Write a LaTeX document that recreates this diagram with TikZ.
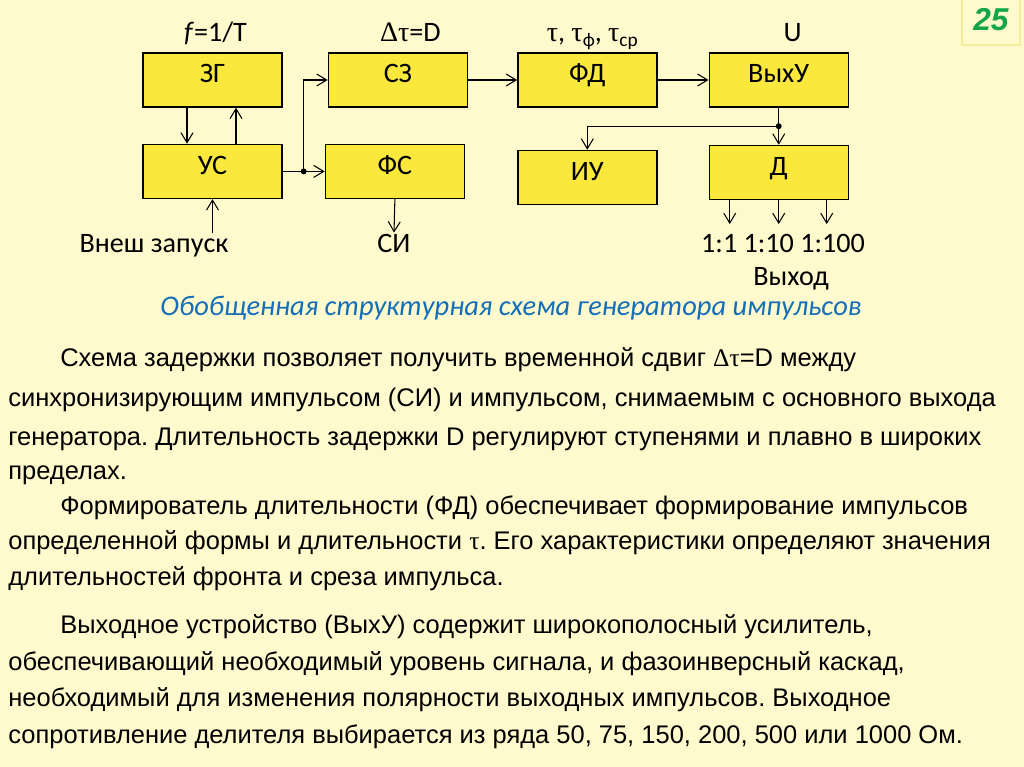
\documentclass[tikz,border=0pt]{standalone}
\usepackage{fontspec}
\setmainfont{Liberation Sans}
\newfontfamily\lblfont{Carlito}
\newfontfamily\grk{Liberation Serif}
\usetikzlibrary{arrows.meta, positioning, calc}

\definecolor{slidebg}{RGB}{255,250,205}
\definecolor{boxyellow}{RGB}{250,232,60}
\definecolor{capblue}{RGB}{20,110,185}
\definecolor{numgreen}{RGB}{20,165,75}
\definecolor{numframe}{RGB}{246,236,160}

\newcommand{\lowidx}[1]{\raisebox{-0.4ex}{\fontsize{11}{12}\selectfont #1}}
\frenchspacing

\begin{document}
\begin{tikzpicture}[
    block/.style={rectangle, draw=black, line width=0.8pt, fill=boxyellow, minimum width=2.78cm, minimum height=1.08cm, inner sep=2pt, text height=0.42cm, text depth=0.3cm, font=\lblfont\fontsize{16}{19}\selectfont},
    lbl/.style={font=\lblfont\fontsize{16}{19}\selectfont, inner sep=1pt},
    body/.style={font=\fontsize{14.5}{17}\selectfont, anchor=base west, inner sep=0pt},
    arr/.style={-{Straight Barb[length=2mm,width=2.4mm]}, line width=0.6pt},
    junction/.style={circle, fill=black, inner sep=0pt, minimum size=1.2mm}
]

% Slide
\fill[slidebg] (0,0) rectangle (20.48,-15.34);
\useasboundingbox (0,0) rectangle (20.48,-15.34);
\node[draw=numframe, line width=1.5pt, minimum width=1.16cm, minimum height=1cm, font=\fontsize{18}{20}\selectfont\bfseries\itshape, text=numgreen] (pagenum) at (19.82,-0.4) {25};

% Blocks
\node[block] (zg) at (4.25,-1.6) {ЗГ};
\node[block, right=0.9cm of zg] (sz) {СЗ};
\node[block, right=0.98cm of sz] (fd) {ФД};
\node[block, right=1.02cm of fd] (vyh) {ВыхУ};
\node[block, below=0.72cm of zg] (us) {УС};
\node[block, right=0.84cm of us] (fs) {ФС};
\node[block, below=0.84cm of fd] (iu) {ИУ};
\node[block, below=0.74cm of vyh] (d) {Д};

% Parameters
\node[lbl, above=0.22cm of zg, anchor=base, xshift=0.06cm] (freq) {\textit{f}=1/T};
\node[lbl, above=0.22cm of sz, anchor=base, xshift=0.25cm] (delay) {{\grk Δτ}=D};
\node[lbl, above=0.22cm of fd, anchor=base, xshift=0.1cm] (width) {{\grk τ}, {\grk τ}\lowidx{ф}, {\grk τ}\lowidx{ср}};
\node[lbl, above=0.22cm of vyh, anchor=base, xshift=0.28cm] (ampl) {U};

% Inputs and outputs
\node[lbl, anchor=base] (ext) at (3.08,-5.06) {Внеш запуск};
\node[lbl, anchor=base] (si) at (7.88,-5.06) {СИ};
\node[lbl, anchor=base] (ratio) at (15.66,-5.06) {1:1 1:10 1:100};
\node[lbl, anchor=base] (outlbl) at (15.82,-5.72) {Выход};
\node[lbl, anchor=base, font=\lblfont\itshape\fontsize{16.2}{19}\selectfont, text=capblue] (caption) at (10.22,-6.32) {Обобщенная структурная схема генератора импульсов};

% Connections
\draw[arr] ([xshift=-0.51cm]zg.south) -- ([xshift=-0.51cm]us.north);
\draw[arr] ([xshift=0.47cm]us.north) -- ([xshift=0.47cm]zg.south);
\draw[arr] (us.south |- ext.north) -- (us.south);

\coordinate (br1) at ($(us.east)!0.5!(fs.west)$);
\draw[arr] (us.east) -- (fs.west);
\draw[arr] (br1) |- (sz.west);
\node[junction] (j1) at (br1) {};

\draw[arr] (sz.east) -- (fd.west);
\draw[arr] (fd.east) -- (vyh.west);
\draw[arr] (fs.south) -- (si.north);

\coordinate (br2) at ($(vyh.south)!0.5!(d.north)$);
\draw[arr] (vyh.south) -- (d.north);
\draw[arr] (br2) -| (iu.north);
\node[junction] (j2) at (br2) {};

\foreach \dx [count=\i] in {-0.98,0,0.96} {
  \coordinate (out\i) at ([xshift=\dx cm, yshift=-0.48cm]d.south);
  \draw[arr] ([xshift=\dx cm]d.south) -- (out\i);
}

% Text
\node[body] (t1) at (1.2,-7.34) {Схема задержки позволяет получить временной сдвиг {\grk Δτ}=D между};
\node[body] (t2) at (0.16,-8.14) {синхронизирующим импульсом (СИ) и импульсом, снимаемым с основного выхода};
\node[body] (t3) at (0.16,-8.92) {генератора. Длительность задержки D регулируют ступенями и плавно в широких};
\node[body] (t4) at (0.16,-9.60) {пределах.};
\node[body] (t5) at (1.2,-10.30) {Формирователь длительности (ФД) обеспечивает формирование импульсов};
\node[body] (t6) at (0.16,-11.00) {определенной формы и длительности {\grk τ}. Его характеристики определяют значения};
\node[body] (t7) at (0.16,-11.72) {длительностей фронта и среза импульса.};
\node[body] (t8) at (1.2,-12.68) {Выходное устройство (ВыхУ) содержит широкополосный усилитель,};
\node[body] (t9) at (0.16,-13.42) {обеспечивающий необходимый уровень сигнала, и фазоинверсный каскад,};
\node[body] (t10) at (0.16,-14.14) {необходимый для изменения полярности выходных импульсов. Выходное};
\node[body] (t11) at (0.16,-14.88) {сопротивление делителя выбирается из ряда 50, 75, 150, 200, 500 или 1000 Ом.};

\end{tikzpicture}
\end{document}
